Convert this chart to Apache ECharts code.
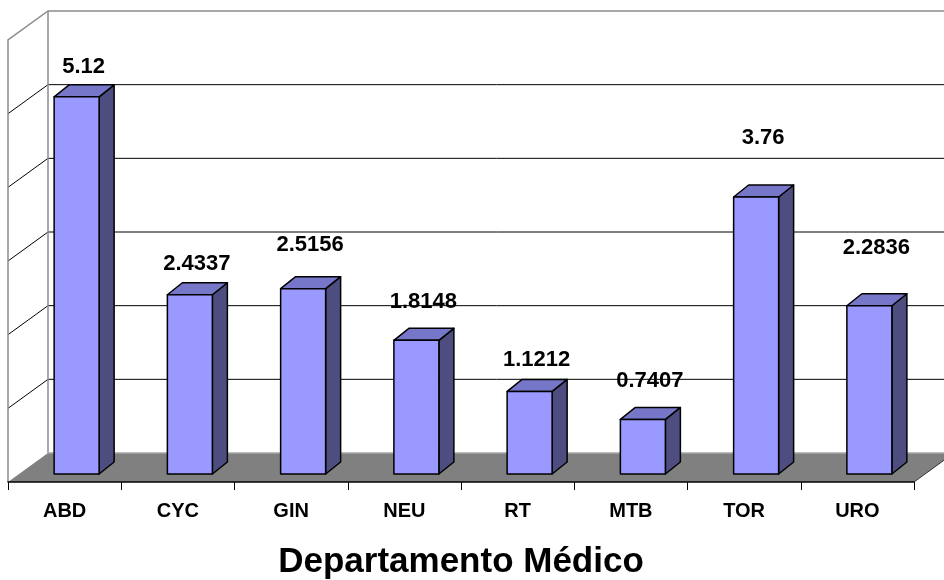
<!DOCTYPE html>
<html>
<head>
<meta charset="utf-8">
<script src="https://cdn.jsdelivr.net/npm/echarts@6/dist/echarts.min.js"></script>
<style>html,body{margin:0;padding:0;background:#fff;}#c{width:944px;height:580px;}</style>
</head>
<body>
<div id="c"></div>
<script>
var categories = ['ABD', 'CYC', 'GIN', 'NEU', 'RT', 'MTB', 'TOR', 'URO'];
var values = [5.12, 2.4337, 2.5156, 1.8148, 1.1212, 0.7407, 3.76, 2.2836];
var valueLabels = ['5.12', '2.4337', '2.5156', '1.8148', '1.1212', '0.7407', '3.76', '2.2836'];
var yMin = 0, yMax = 6, yStep = 1;
var axisTitle = 'Departamento Médico';

// layout (not data): vertical lift of each value label above its bar
var labelLift = [30, 31, 44, 38, 31, 38, 59, 58];

var FONT = 'Arial, "Liberation Sans", sans-serif';
var DEPTH = [40, -29];     // floor depth offset
var BAR_OFF = [12, -8];    // bar front face offset from floor front plane
var BAR_DEPTH = [15, -12]; // bar depth
var BAR_W = 45;

var chart = echarts.init(document.getElementById('c'), null, {renderer: 'canvas'});

function renderWalls(params, api) {
  var cs = params.coordSys;
  var x0 = cs.x, x1 = cs.x + cs.width, yb = cs.y + cs.height, yt = cs.y;
  var dx = DEPTH[0], dy = DEPTH[1];
  var ch = [];
  ch.push({type: 'polygon', shape: {points: [[x0, yb], [x0, yt], [x0 + dx, yt + dy], [x0 + dx, yb + dy]]},
    style: {fill: '#fff', stroke: null}});
  for (var v = yMin + yStep; v < yMax - 1e-9; v += yStep) {
    var y = api.coord([0, v])[1];
    ch.push({type: 'polyline', shape: {points: [[x0, y], [x0 + dx, y + dy], [x1 + dx + 60, y + dy]]},
      style: {stroke: '#000', lineWidth: 1, fill: null}});
  }
  ch.push({type: 'polyline', shape: {points: [[x0, yb], [x0, yt], [x0 + dx, yt + dy], [x1 + dx + 60, yt + dy]]},
    style: {stroke: '#8c8c8c', lineWidth: 1.5, fill: null}});
  ch.push({type: 'line', shape: {x1: x0 + dx, y1: yt + dy, x2: x0 + dx, y2: yb + dy},
    style: {stroke: '#8c8c8c', lineWidth: 1.5}});
  ch.push({type: 'polygon', shape: {points: [[x0, yb], [x1, yb], [x1 + dx, yb + dy], [x0 + dx, yb + dy]]},
    style: {fill: '#808080', stroke: null}});
  ch.push({type: 'line', shape: {x1: x0 + dx, y1: yb + dy, x2: x1 + dx, y2: yb + dy},
    style: {stroke: '#a6a6a6', lineWidth: 1.5}});
  ch.push({type: 'line', shape: {x1: x1, y1: yb, x2: x1 + dx, y2: yb + dy},
    style: {stroke: '#333', lineWidth: 1}});
  return {type: 'group', children: ch};
}

function renderBar(params, api) {
  var i = api.value(0), v = api.value(1);
  var p0 = api.coord([i, 0]);
  var p1 = api.coord([i, v]);
  var xc = p0[0] + BAR_OFF[0];
  var xl = xc - BAR_W / 2, xr = xc + BAR_W / 2;
  var yb = p0[1] + BAR_OFF[1], yt = p1[1] + BAR_OFF[1];
  var ddx = BAR_DEPTH[0], ddy = BAR_DEPTH[1];
  var st = {stroke: '#000', lineWidth: 1.5, lineJoin: 'round'};
  return {type: 'group', children: [
    {type: 'polygon', shape: {points: [[xr, yt], [xr + ddx, yt + ddy], [xr + ddx, yb + ddy], [xr, yb]]},
      style: Object.assign({fill: '#4d4d80'}, st)},
    {type: 'polygon', shape: {points: [[xl, yt], [xr, yt], [xr + ddx, yt + ddy], [xl + ddx, yt + ddy]]},
      style: Object.assign({fill: '#7777c9'}, st)},
    {type: 'rect', shape: {x: xl, y: yt, width: BAR_W, height: yb - yt},
      style: Object.assign({fill: '#9999ff'}, st)},
    {type: 'text', style: {text: valueLabels[params.dataIndex], x: xc + 7, y: yt - labelLift[params.dataIndex],
      align: 'center', verticalAlign: 'middle', fill: '#000',
      font: 'bold 22px ' + FONT}}
  ]};
}

var barData = values.map(function (v, i) { return [i, v]; });

chart.setOption({
  animation: false,
  backgroundColor: '#fff',
  grid: {left: 8, right: 30, top: 40, bottom: 98, containLabel: false, outerBoundsMode: 'none'},
  xAxis: {
    type: 'category', data: categories, boundaryGap: true,
    axisLine: {show: true, lineStyle: {color: '#000', width: 1.5}},
    axisTick: {show: true, length: 8, lineStyle: {color: '#000', width: 1}},
    axisLabel: {margin: 19, color: '#000', fontSize: 20, fontWeight: 'bold', fontFamily: FONT},
    name: axisTitle, nameLocation: 'middle', nameGap: 63,
    nameTextStyle: {color: '#000', fontSize: 35, fontWeight: 'bold', fontFamily: FONT},
    splitLine: {show: false}, z: 5
  },
  yAxis: {
    type: 'value', min: yMin, max: yMax, interval: yStep,
    axisLine: {show: false}, axisTick: {show: false}, axisLabel: {show: false}, splitLine: {show: false}
  },
  series: [
    {type: 'custom', data: [[0, 0]], renderItem: renderWalls, silent: true, z: 1, clip: false},
    {type: 'custom', data: barData, renderItem: renderBar, z: 2, clip: false}
  ]
});
</script>
</body>
</html>
